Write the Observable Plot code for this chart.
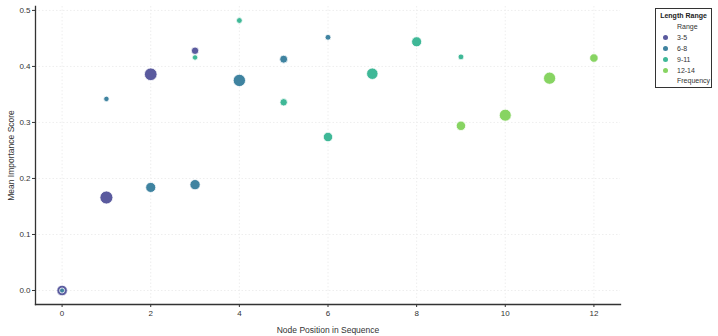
<!DOCTYPE html>
<html>
<head>
<meta charset="utf-8">
<script src="https://cdn.jsdelivr.net/npm/d3@7"></script>
<script src="https://cdn.jsdelivr.net/npm/@observablehq/plot@0.6"></script>
<style>
  html, body { margin: 0; padding: 0; background: #fff; }
  #wrap { position: relative; width: 718px; height: 336px; font-family: "Liberation Sans", Arial, sans-serif; }
  #legend { position: absolute; left: 655px; top: 8px; width: 57px; height: 80px; border: 1px solid #333; box-sizing: border-box; font-size: 7px; color: #333; background: #fff; }
  #legend .title { position: absolute; left: 0; width: 100%; top: 3px; text-align: center; font-weight: bold; color: #222; }
  #legend .sub { position: absolute; left: 21px; white-space: nowrap; }
  #legend .dot { position: absolute; left: 7px; width: 5px; height: 5px; border-radius: 50%; }
</style>
</head>
<body>
<div id="wrap"><div id="legend"></div></div>
<script>
const rangeNames = ["3-5", "6-8", "9-11", "12-14"];
const rangeColors = ["#5a5a9e", "#3f83a0", "#3fb897", "#87d462"];

// each point: node position, length range, mean importance score, frequency
const positions = [0, 0, 1, 1, 2, 2, 3, 3, 3, 4, 4, 5, 5, 6, 6, 7, 8, 9, 9, 10, 11, 12];
const ranges    = ["3-5", "6-8", "3-5", "6-8", "3-5", "6-8", "6-8", "3-5", "9-11", "6-8", "9-11", "6-8", "9-11", "9-11", "6-8", "9-11", "9-11", "12-14", "9-11", "12-14", "12-14", "12-14"];
const scores    = [0.000, 0.000, 0.166, 0.342, 0.386, 0.184, 0.189, 0.428, 0.416, 0.375, 0.482, 0.413, 0.336, 0.274, 0.452, 0.387, 0.444, 0.294, 0.417, 0.313, 0.379, 0.415];
const freqs     = [26, 6, 40, 7, 38, 24, 25, 13, 7, 36, 8, 15, 13, 21, 8, 31, 24, 21, 8, 34, 35, 17];

const xTicks = [0, 2, 4, 6, 8, 10, 12];
const yTicks = [0.0, 0.1, 0.2, 0.3, 0.4, 0.5];

const data = positions.map((p, i) => ({pos: p, range: ranges[i], score: scores[i], freq: freqs[i]}));

const chart = Plot.plot({
  width: 718,
  height: 336,
  marginLeft: 35,
  marginRight: 98,
  marginTop: 6,
  marginBottom: 32,
  style: {fontFamily: "Liberation Sans, Arial, sans-serif", fontSize: "8px", color: "#333", background: "#fff"},
  x: {domain: [-0.6, 12.6], ticks: xTicks},
  y: {domain: [-0.025, 0.507], ticks: yTicks},
  r: {type: "sqrt", domain: [0, 40], range: [0, 6.5]},
  color: {domain: rangeNames, range: rangeColors},
  marks: [
    Plot.gridX(xTicks, {stroke: "#eeeeee", strokeOpacity: 1, strokeDasharray: "1.5,2"}),
    Plot.gridY(yTicks, {stroke: "#eeeeee", strokeOpacity: 1, strokeDasharray: "1.5,2"}),
    Plot.axisX(xTicks, {tickSize: 3, tickPadding: 3, tickFormat: d => String(d), label: null, stroke: "#333"}),
    Plot.axisY(yTicks, {tickSize: 3, tickPadding: 2, tickFormat: d3.format(".1f"), label: null, stroke: "#333"}),
    Plot.axisX({ticks: [], label: "Node Position in Sequence", labelAnchor: "center", labelOffset: 28, fontSize: 8.5, labelArrow: "none"}),
    Plot.axisY({ticks: [], label: "Mean Importance Score", labelAnchor: "center", labelOffset: 28, fontSize: 8.5, labelArrow: "none"}),
    Plot.frame({anchor: "left", stroke: "#333", strokeWidth: 1.3}),
    Plot.frame({anchor: "bottom", stroke: "#333", strokeWidth: 1.3}),
    Plot.dot(data, {x: "pos", y: "score", r: "freq", fill: "range", fillOpacity: 1, stroke: "#fff", strokeWidth: 0.8})
  ]
});
document.getElementById("wrap").prepend(chart);

// legend
const lg = document.getElementById("legend");
const add = (cls, text, top) => { const d = document.createElement("div"); d.className = cls; d.textContent = text; d.style.top = top + "px"; lg.appendChild(d); };
add("title", "Length Range", 3);
add("sub", "Range", 14);
rangeNames.forEach((n, i) => {
  const top = 25 + i * 11;
  const dot = document.createElement("div");
  dot.className = "dot"; dot.style.top = (top + 1) + "px"; dot.style.background = rangeColors[i];
  lg.appendChild(dot);
  add("sub", n, top);
});
add("sub", "Frequency", 68);
</script>
</body>
</html>
